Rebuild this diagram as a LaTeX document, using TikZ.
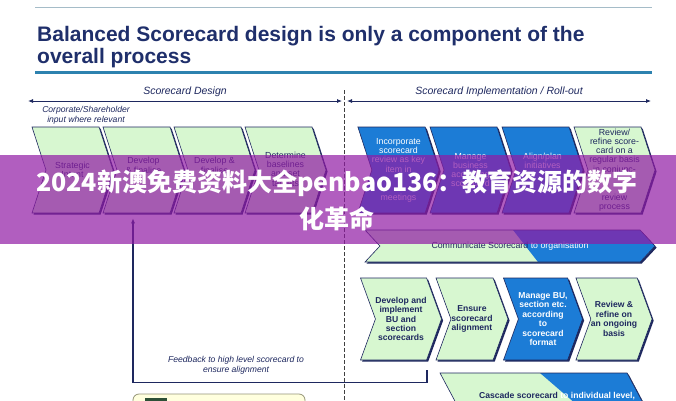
\documentclass[tikz,border=0pt]{standalone}
\usepackage{fontspec}
\setmainfont{Liberation Sans}
\newfontfamily\cjk{Noto Sans CJK SC}
\usetikzlibrary{shapes.symbols,shadows,arrows.meta}
\definecolor{navy}{RGB}{30,40,95}
\definecolor{titleblue}{RGB}{31,47,107}
\definecolor{ruleblue}{RGB}{45,130,175}
\definecolor{toprule}{RGB}{165,188,200}
\definecolor{mint}{RGB}{215,247,208}
\definecolor{chevblue}{RGB}{28,124,214}
\definecolor{bannerpurple}{RGB}{145,26,165}
\definecolor{legendfill}{RGB}{255,255,222}
\definecolor{legendline}{RGB}{150,150,120}
\definecolor{legendkey}{RGB}{45,80,55}

\begin{document}
\begin{tikzpicture}[x=1pt, y=-1pt,
    >={Latex[length=5pt,width=4pt]},
    chev/.style={shape=signal, signal from=west, signal to=east, draw=navy,
        line width=0.6pt, inner sep=0pt, align=center,
        drop shadow={shadow xshift=1.6pt, shadow yshift=-1.6pt, fill=navy, opacity=1}},
    greenchev/.style={chev, fill=mint, text=navy},
    bluechev/.style={chev, fill=chevblue, text=white},
    toprow/.style={minimum width=81pt, minimum height=86pt, signal pointer angle=144,
        font=\fontsize{8.8}{9.3}\selectfont},
    botrow/.style={minimum width=72pt, minimum height=82pt, signal pointer angle=140,
        font=\fontsize{8.6}{9.4}\selectfont\bfseries},
    splitfill/.style 2 args={path picture={\fill[chevblue]
        ([xshift=#1]path picture bounding box.north west) --
        ([xshift=#2]path picture bounding box.south west) --
        (path picture bounding box.south east) --
        (path picture bounding box.north east) -- cycle;}},
    note/.style={text=navy, align=center, inner sep=0pt, font=\fontsize{8.6}{10}\selectfont\itshape},
    heading/.style={text=navy, inner sep=0pt, font=\fontsize{10.5}{12}\selectfont\itshape},
    secarrow/.style={<->, navy, line width=0.8pt},
    fbline/.style={->, navy, line width=1.4pt}]

    \useasboundingbox (0,0) rectangle (676,400);
    \fill[white] (0,0) rectangle (676,400);

    % Title
    \draw[toprule, line width=1pt] (35,7) -- (652,7);
    \node[anchor=north west, inner sep=0pt, align=left, text=titleblue,
        font=\fontsize{21}{22.5}\selectfont\bfseries] (title) at (37,26)
        {Balanced Scorecard design is only a component of the\\overall process};
    \draw[ruleblue, line width=3.4pt] (35,72.5) -- (652,72.5);

    % Phases
    \node[heading] (design) at (185,92) {Scorecard Design};
    \node[heading] (rollout) at (499,92) {Scorecard Implementation / Roll-out};
    \coordinate (designL) at (28,101);
    \coordinate (designR) at (342,101);
    \coordinate (rolloutL) at (347,101);
    \coordinate (rolloutR) at (651,101);
    \draw[secarrow] (designL) -- (designR);
    \draw[secarrow] (rolloutL) -- (rolloutR);
    \draw[black!75, line width=0.6pt, dash pattern=on 3.5pt off 2.5pt] (344,90) -- (344,402);
    \node[note] (corporate) at (86,115) {Corporate/Shareholder\\input where relevant};

    % Scorecard design
    \node[greenchev, toprow] (strategic) at (72.5,170) {Strategic\\Intent};
    \node[greenchev, toprow] (finalise1) at (143.5,170) {Develop\\\& finalise\\~};
    \node[greenchev, toprow] (finalise2) at (214.5,170) {Develop \&\\finalise\\~};
    \node[greenchev, toprow] (baselines) at (285.5,170) {Determine\\baselines\\and set\\targets};

    % Implementation
    \node[bluechev, toprow] (incorporate) at (398.5,170) {Incorporate\\scorecard\\review as key\\item in\\~\\~\\meetings};
    \node[bluechev, toprow] (managebiz) at (470.5,170) {Manage\\business\\according\\scorecard};
    \node[bluechev, toprow] (alignplan) at (542.5,170) {Align/plan\\initiatives\\~\\~};
    \node[greenchev, toprow] (reviewreg) at (614.5,170) {Review/\\refine score-\\card on a\\regular basis\\in conjunc-\\~\\~\\review\\process};

    \node[greenchev, splitfill={148pt}{173pt}, minimum width=290pt, minimum height=32pt,
        signal pointer angle=94, font=\fontsize{8.8}{10}\selectfont] (communicate) at (510,246)
        {Communicate Scorecard \textcolor{white}{to organisation}};

    \node[greenchev, botrow] (implement) at (401,319) {Develop and\\implement\\BU and\\section\\scorecards};
    \node[greenchev, botrow] (ensure) at (472,319) {Ensure\\scorecard\\alignment};
    \node[bluechev, botrow] (managebu) at (543,319) {Manage BU,\\section etc.\\according\\to\\scorecard\\format};
    \node[greenchev, botrow] (reviewongoing) at (614,319) {Review \&\\refine on\\an ongoing\\basis};

    \node[greenchev, splitfill={100pt}{165pt}, minimum width=202pt, minimum height=56pt,
        signal pointer angle=124] (cascade) at (541,401) {};
    \node[text=navy, inner sep=0pt, font=\fontsize{8.6}{10}\selectfont\bfseries] (cascadetxt) at (557,396)
        {Cascade scorecard \textcolor{white}{to individual level,}};

    % Feedback loop
    \coordinate (fbstart) at ([xshift=26pt,yshift=-10pt]implement.south);
    \coordinate (fbend) at ([xshift=-10.5pt,yshift=-5pt]finalise1.south);
    \draw[fbline] (fbstart) -- ++(0,12) -| (fbend);
    \node[note] (feedback) at (236,365) {Feedback to high level scorecard to\\ensure alignment};

    % Legend (cut off)
    \node[draw=legendline, fill=legendfill, rounded corners=6pt, line width=0.8pt,
        minimum width=172pt, minimum height=32pt] (legend) at (219,410) {};
    \node[fill=legendkey, minimum width=22pt, minimum height=14pt, inner sep=0pt] (legendkey) at (156,405) {};

    % Banner
    \fill[bannerpurple, opacity=0.7] (0,155) rectangle (676,244);
    \node[text=white, align=center, inner sep=0pt, font=\cjk\bfseries\fontsize{25}{37}\selectfont] (banner) at (337,200)
        {2024新澳免费资料大全penbao136：教育资源的数字\\化革命};
\end{tikzpicture}
\end{document}
